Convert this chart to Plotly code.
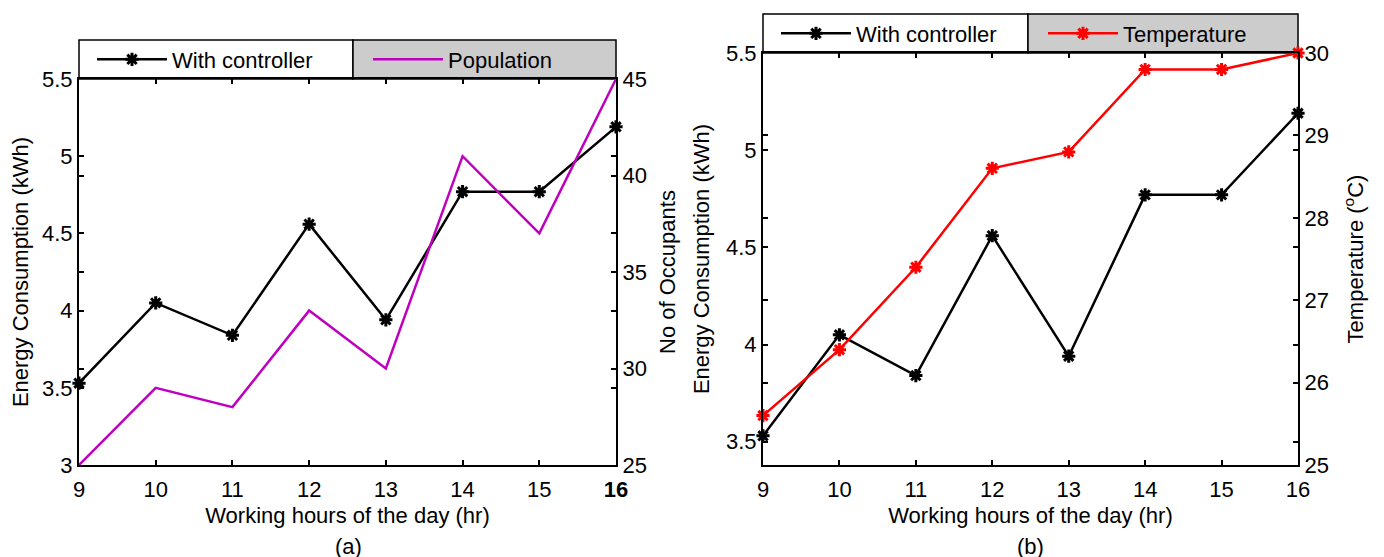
import plotly.graph_objects as go

# ---------------- data ----------------
hours = [9, 10, 11, 12, 13, 14, 15, 16]
energy_with_controller = [3.53, 4.05, 3.84, 4.56, 3.94, 4.77, 4.77, 5.19]
population = [25, 29, 28, 33, 30, 41, 37, 45]
temperature = [25.6, 26.4, 27.4, 28.6, 28.8, 29.8, 29.8, 30.0]

x_tickvals = [9, 10, 11, 12, 13, 14, 15, 16]
x_ticktext_a = ["9", "10", "11", "12", "13", "14", "15", "<b>16</b>"]
x_ticktext_b = ["9", "10", "11", "12", "13", "14", "15", "16"]
energy_ticks_a = [3, 3.5, 4, 4.5, 5, 5.5]
energy_ticks_b = [3.5, 4, 4.5, 5, 5.5]
occupant_ticks = [25, 30, 35, 40, 45]
temperature_ticks = [25, 26, 27, 28, 29, 30]

# ---------------- layout constants ----------------
W, H = 1384, 557
OFF = 8  # page body margin of the html page
FONT = "Arial, Liberation Sans, sans-serif"
FS = 22

def px_x(v):
    return (v - OFF) / W

def px_y(v):
    return (H - (v - OFF)) / H

A_X = [px_x(79), px_x(616)]
B_X = [px_x(763), px_x(1298)]
A_Y = [px_y(465), px_y(79)]
B_Y = [px_y(465), px_y(53)]

BLACK = "#000000"
MAGENTA = "#bf00bf"
RED = "#ff0000"

fig = go.Figure()

marker_black = dict(symbol="asterisk-open", size=11, color=BLACK, line=dict(color=BLACK, width=3))
marker_red = dict(symbol="asterisk-open", size=11, color=RED, line=dict(color=RED, width=3))

# Chart (a)
fig.add_trace(go.Scatter(x=hours, y=energy_with_controller, mode="lines+markers",
                         name="With controller", line=dict(color=BLACK, width=2.5),
                         marker=marker_black, xaxis="x", yaxis="y",
                         cliponaxis=False, legend="legend"))
fig.add_trace(go.Scatter(x=hours, y=population, mode="lines",
                         name="Population", line=dict(color=MAGENTA, width=2.5),
                         xaxis="x", yaxis="y2", cliponaxis=False, legend="legend2"))
# Chart (b)
fig.add_trace(go.Scatter(x=hours, y=energy_with_controller, mode="lines+markers",
                         name="With controller", line=dict(color=BLACK, width=2.5),
                         marker=marker_black, xaxis="x2", yaxis="y3",
                         cliponaxis=False, legend="legend3"))
fig.add_trace(go.Scatter(x=hours, y=temperature, mode="lines+markers",
                         name="Temperature", line=dict(color=RED, width=2.5),
                         marker=marker_red, xaxis="x2", yaxis="y4",
                         cliponaxis=False, legend="legend4"))

def axis(**kw):
    base = dict(showline=True, linecolor=BLACK, linewidth=2, mirror="ticks",
                ticks="inside", ticklen=5, tickwidth=1.5, tickcolor=BLACK,
                showgrid=False, zeroline=False, automargin=False,
                tickfont=dict(family=FONT, size=FS, color=BLACK),
                title_font=dict(family=FONT, size=FS, color=BLACK))
    base.update(kw)
    return base

xtitle = "Working hours of the day (hr)"

fig.update_layout(
    width=W, height=H,
    margin=dict(l=0, r=0, t=0, b=0, autoexpand=False),
    paper_bgcolor="white", plot_bgcolor="rgba(0,0,0,0)",
    font=dict(family=FONT, size=FS, color=BLACK),
    xaxis=axis(domain=A_X, anchor="y", range=[9, 16], tickvals=x_tickvals,
               ticktext=x_ticktext_a, ticklabelstandoff=4,
               title=dict(text=xtitle, standoff=6)),
    yaxis=axis(domain=A_Y, anchor="x", range=[3, 5.5], tickvals=energy_ticks_a,
               ticklabelstandoff=0,
               title=dict(text="Energy Consumption (kWh)", standoff=10)),
    yaxis2=axis(overlaying="y", side="right", anchor="x", range=[25, 45],
                tickvals=occupant_ticks, ticklabelstandoff=0,
                title=dict(text="No of Occupants", standoff=14)),
    xaxis2=axis(domain=B_X, anchor="y3", range=[9, 16], tickvals=x_tickvals,
                ticktext=x_ticktext_b, ticklabelstandoff=4,
                title=dict(text=xtitle, standoff=6)),
    yaxis3=axis(domain=B_Y, anchor="x2", range=[3.38, 5.5], tickvals=energy_ticks_b,
                ticklabelstandoff=0,
                title=dict(text="Energy Consumption (kWh)", standoff=10)),
    yaxis4=axis(overlaying="y3", side="right", anchor="x2", range=[25, 30],
                tickvals=temperature_ticks, ticklabelstandoff=0,
                title=dict(text="Temperature (<sup>o</sup>C)", standoff=20)),
    showlegend=True,
)

leg_common = dict(bgcolor="rgba(0,0,0,0)", borderwidth=0, itemwidth=70,
                  font=dict(family=FONT, size=FS, color=BLACK),
                  xanchor="left", yanchor="middle", orientation="h")
fig.update_layout(
    legend=dict(x=px_x(92), y=px_y(59.5), **leg_common),
    legend2=dict(x=px_x(368), y=px_y(59.5), **leg_common),
    legend3=dict(x=px_x(776), y=px_y(33.5), **leg_common),
    legend4=dict(x=px_x(1043), y=px_y(33.5), **leg_common),
)

# legend boxes (white left half, grey right half) above each plot
boxes = [
    (79, 353, 40, 79, "white"), (353, 616, 40, 79, "#cccccc"),
    (763, 1028, 14, 53, "white"), (1028, 1298, 14, 53, "#cccccc"),
]
for x0, x1, y0, y1, fill in boxes:
    fig.add_shape(type="rect", xref="paper", yref="paper",
                  x0=px_x(x0), x1=px_x(x1), y0=px_y(y1), y1=px_y(y0),
                  fillcolor=fill, line=dict(color=BLACK, width=1.5), layer="below")

fig.add_annotation(text="(a)", x=px_x(348), y=px_y(546), xref="paper", yref="paper",
                   xanchor="center", yanchor="middle",
                   showarrow=False, font=dict(family=FONT, size=FS, color=BLACK))
fig.add_annotation(text="(b)", x=px_x(1030), y=px_y(546), xref="paper", yref="paper",
                   xanchor="center", yanchor="middle",
                   showarrow=False, font=dict(family=FONT, size=FS, color=BLACK))

fig.write_html("out.html")
